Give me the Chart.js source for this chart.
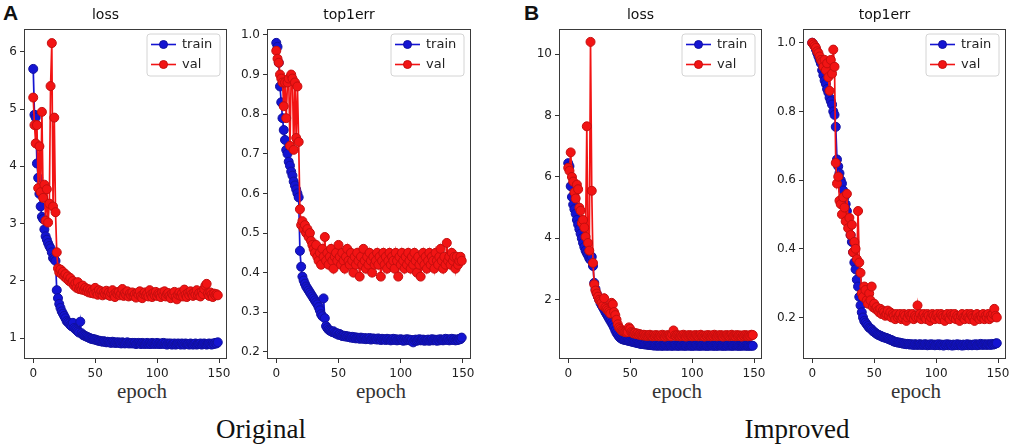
<!DOCTYPE html>
<html>
<head>
<meta charset="utf-8">
<script src="https://cdn.jsdelivr.net/npm/chart.js@4.4.1/dist/chart.umd.min.js"></script>
<style>
html,body{margin:0;padding:0;background:#fff;width:1024px;height:448px;overflow:hidden;position:relative}
canvas{position:absolute;top:0}
.pl{position:absolute;font-family:'Liberation Sans',Arial,sans-serif;font-weight:bold;font-size:21px;line-height:21px;color:#111}
.ep{position:absolute;width:120px;text-align:center;font-family:'Liberation Serif','DejaVu Serif',serif;font-size:21px;line-height:21px;color:#333}
.cap{position:absolute;width:200px;text-align:center;font-family:'Liberation Serif','DejaVu Serif',serif;font-size:27px;line-height:27px;color:#111}
</style>
</head>
<body>
<div class="pl" style="left:3px;top:2px">A</div>
<div class="pl" style="left:524px;top:2px">B</div>
<div class="ep" style="left:82px;top:381px">epoch</div>
<div class="ep" style="left:321px;top:381px">epoch</div>
<div class="ep" style="left:617px;top:381px">epoch</div>
<div class="ep" style="left:856px;top:381px">epoch</div>
<div class="cap" style="left:161px;top:416px">Original</div>
<div class="cap" style="left:697px;top:416px">Improved</div>
<canvas id="c1"></canvas>
<canvas id="c2"></canvas>
<canvas id="c3"></canvas>
<canvas id="c4"></canvas>
<script>
// ---- categories / ticks ----
const epochs = Array.from({length:150}, (_, i) => i);
const xTicks = [0, 50, 100, 150];
const aLossTicks = [1, 2, 3, 4, 5, 6];
const aTopTicks = [0.2, 0.3, 0.4, 0.5, 0.6, 0.7, 0.8, 0.9, 1.0];
const bLossTicks = [2, 4, 6, 8, 10];
const bTopTicks = [0.2, 0.4, 0.6, 0.8, 1.0];
const seriesNames = ['train', 'val'];

// ---- A (Original) loss ----
const aLossTrain = [5.70,4.90,4.85,4.05,3.80,3.52,3.30,3.12,3.08,2.90,
 2.78,2.72,2.66,2.61,2.57,2.50,2.40,2.38,2.35,1.84,
 1.70,1.60,1.53,1.47,1.43,1.39,1.35,1.30,1.28,1.26,
 1.23,1.21,1.27,1.18,1.16,1.14,1.12,1.10,1.29,1.09,
 1.06,1.05,1.04,1.03,1.02,1.01,1.00,0.99,0.99,0.98,
 0.98,0.97,0.96,0.96,0.95,0.95,0.94,0.95,0.94,0.93,
 0.94,0.93,0.93,0.92,0.94,0.93,0.92,0.93,0.92,0.93,
 0.92,0.91,0.93,0.92,0.91,0.92,0.93,0.91,0.92,0.91,
 0.92,0.91,0.92,0.90,0.91,0.92,0.91,0.90,0.92,0.91,
 0.90,0.91,0.92,0.90,0.91,0.90,0.92,0.91,0.90,0.91,
 0.92,0.90,0.91,0.90,0.91,0.92,0.90,0.91,0.89,0.91,
 0.90,0.91,0.89,0.90,0.91,0.89,0.90,0.91,0.90,0.89,
 0.91,0.90,0.89,0.91,0.90,0.90,0.89,0.91,0.90,0.89,
 0.90,0.91,0.89,0.90,0.90,0.91,0.89,0.90,0.91,0.90,
 0.89,0.90,0.91,0.90,0.89,0.91,0.90,0.92,0.91,0.93];
const aLossVal = [5.20,4.72,4.40,4.72,3.62,4.35,3.55,4.95,3.45,3.68,
 3.05,3.60,3.02,3.35,5.40,6.15,3.30,4.85,3.20,2.50,
 2.22,2.15,2.20,2.12,2.16,2.08,2.12,2.04,2.08,2.00,
 2.05,1.97,2.00,1.92,1.96,1.88,1.98,1.86,1.90,1.85,
 1.92,1.84,1.88,1.82,1.86,1.80,1.85,1.79,1.83,1.78,
 1.88,1.80,1.76,1.84,1.78,1.82,1.75,1.80,1.77,1.83,
 1.76,1.80,1.74,1.79,1.84,1.76,1.72,1.80,1.77,1.81,
 1.75,1.78,1.86,1.74,1.79,1.76,1.82,1.73,1.78,1.75,
 1.80,1.74,1.77,1.71,1.79,1.76,1.82,1.74,1.70,1.77,
 1.80,1.75,1.78,1.73,1.84,1.76,1.72,1.79,1.75,1.81,
 1.74,1.78,1.76,1.72,1.80,1.75,1.82,1.73,1.77,1.79,
 1.74,1.70,1.78,1.75,1.81,1.72,1.68,1.76,1.80,1.74,
 1.78,1.73,1.85,1.76,1.72,1.79,1.75,1.82,1.77,1.74,
 1.80,1.76,1.84,1.75,1.79,1.73,1.81,1.77,1.86,1.92,
 1.95,1.78,1.74,1.80,1.76,1.72,1.78,1.75,1.77,1.75];

// ---- A (Original) top1err ----
const aTopTrain = [0.98,0.97,0.93,0.87,0.83,0.79,0.76,0.735,0.71,0.70,
 0.68,0.67,0.655,0.645,0.63,0.62,0.61,0.60,0.59,0.455,
 0.415,0.39,0.38,0.372,0.365,0.36,0.355,0.35,0.345,0.34,
 0.335,0.33,0.325,0.32,0.313,0.305,0.295,0.29,0.335,0.285,
 0.265,0.26,0.256,0.254,0.252,0.25,0.252,0.248,0.246,0.247,
 0.243,0.245,0.242,0.24,0.241,0.239,0.24,0.238,0.239,0.237,
 0.236,0.238,0.235,0.237,0.234,0.236,0.235,0.233,0.236,0.234,
 0.233,0.235,0.232,0.234,0.233,0.235,0.231,0.233,0.234,0.232,
 0.233,0.231,0.234,0.232,0.230,0.233,0.231,0.232,0.230,0.233,
 0.231,0.232,0.229,0.231,0.233,0.230,0.232,0.229,0.231,0.230,
 0.232,0.230,0.228,0.231,0.229,0.232,0.230,0.231,0.228,0.230,
 0.224,0.229,0.231,0.228,0.230,0.232,0.229,0.230,0.231,0.228,
 0.230,0.229,0.231,0.228,0.230,0.232,0.229,0.231,0.230,0.228,
 0.231,0.229,0.232,0.230,0.229,0.231,0.233,0.230,0.232,0.229,
 0.231,0.233,0.230,0.232,0.229,0.231,0.230,0.233,0.232,0.236];
const aTopVal = [0.96,0.94,0.93,0.90,0.89,0.88,0.82,0.88,0.79,0.88,
 0.89,0.72,0.90,0.89,0.71,0.88,0.74,0.87,0.73,0.56,
 0.52,0.53,0.51,0.52,0.50,0.51,0.49,0.50,0.48,0.47,
 0.46,0.45,0.47,0.44,0.43,0.45,0.42,0.46,0.44,0.49,
 0.43,0.45,0.42,0.44,0.46,0.43,0.41,0.44,0.45,0.43,
 0.47,0.44,0.42,0.45,0.43,0.41,0.44,0.46,0.43,0.42,
 0.45,0.43,0.40,0.44,0.42,0.45,0.43,0.39,0.44,0.42,
 0.46,0.43,0.41,0.44,0.42,0.45,0.43,0.40,0.44,0.42,
 0.43,0.45,0.42,0.44,0.39,0.43,0.45,0.42,0.44,0.41,
 0.43,0.45,0.42,0.44,0.43,0.41,0.45,0.43,0.39,0.44,
 0.42,0.45,0.43,0.41,0.44,0.42,0.45,0.43,0.41,0.44,
 0.42,0.45,0.43,0.40,0.44,0.42,0.39,0.43,0.45,0.42,
 0.44,0.41,0.43,0.45,0.42,0.44,0.43,0.41,0.45,0.43,
 0.42,0.44,0.46,0.43,0.41,0.44,0.42,0.475,0.43,0.44,
 0.42,0.45,0.43,0.44,0.41,0.44,0.42,0.43,0.44,0.43];

// ---- B (Improved) loss ----
const bLossTrain = [6.45,6.35,5.70,5.35,5.10,4.95,4.80,4.60,4.45,4.30,
 4.15,4.00,3.85,3.72,3.60,3.52,3.45,3.35,3.30,3.40,
 3.10,2.55,2.35,2.20,2.10,2.00,1.90,1.82,1.75,1.68,
 1.60,1.53,1.46,1.39,1.32,1.25,1.18,1.10,1.00,0.92,
 0.86,0.80,0.76,0.73,0.71,0.70,0.69,0.68,0.67,0.66,
 0.65,0.64,0.63,0.62,0.61,0.60,0.59,0.58,0.57,0.56,
 0.56,0.55,0.55,0.54,0.54,0.53,0.53,0.52,0.52,0.51,
 0.51,0.52,0.50,0.51,0.52,0.50,0.51,0.50,0.52,0.51,
 0.50,0.51,0.52,0.50,0.51,0.50,0.52,0.51,0.50,0.51,
 0.50,0.52,0.51,0.50,0.51,0.50,0.51,0.52,0.50,0.51,
 0.50,0.51,0.50,0.52,0.51,0.50,0.51,0.50,0.51,0.52,
 0.50,0.51,0.50,0.51,0.50,0.52,0.51,0.50,0.51,0.50,
 0.51,0.50,0.52,0.51,0.50,0.51,0.50,0.51,0.50,0.52,
 0.51,0.50,0.51,0.50,0.51,0.52,0.50,0.51,0.50,0.51,
 0.50,0.51,0.52,0.50,0.51,0.50,0.51,0.50,0.51,0.50];
const bLossVal = [6.30,6.20,6.80,6.00,5.85,5.50,5.30,5.75,5.60,5.00,
 4.90,4.50,4.60,4.35,4.05,7.65,3.85,3.60,10.40,5.55,
 3.20,2.50,2.30,2.20,2.10,2.00,1.95,1.90,1.80,2.05,
 1.75,1.70,1.65,1.60,1.55,1.90,1.85,1.60,1.50,1.35,
 1.20,1.10,1.05,1.00,0.98,0.96,0.95,0.94,0.95,1.10,
 1.05,0.95,0.92,0.90,0.92,0.88,0.90,0.86,0.88,0.85,
 0.84,0.86,0.83,0.85,0.82,0.84,0.86,0.83,0.81,0.84,
 0.82,0.85,0.83,0.81,0.84,0.82,0.86,0.83,0.80,0.84,
 0.82,0.85,0.83,0.81,0.88,1.00,0.84,0.82,0.85,0.83,
 0.81,0.84,0.82,0.86,0.83,0.80,0.84,0.82,0.85,0.83,
 0.81,0.84,0.82,0.85,0.83,0.81,0.84,0.86,0.82,0.83,
 0.80,0.84,0.82,0.85,0.83,0.81,0.84,0.82,0.86,0.83,
 0.81,0.84,0.82,0.85,0.83,0.80,0.84,0.82,0.85,0.83,
 0.81,0.84,0.86,0.82,0.83,0.81,0.85,0.82,0.84,0.83,
 0.80,0.84,0.82,0.85,0.83,0.81,0.84,0.82,0.86,0.85];

// ---- B (Improved) top1err ----
const bTopTrain = [1.00,0.995,0.99,0.98,0.97,0.96,0.95,0.94,0.92,0.905,
 0.89,0.88,0.865,0.855,0.84,0.83,0.82,0.80,0.79,0.755,
 0.66,0.64,0.62,0.60,0.59,0.57,0.55,0.53,0.51,0.49,
 0.465,0.44,0.42,0.39,0.36,0.34,0.31,0.29,0.26,0.235,
 0.215,0.20,0.19,0.185,0.18,0.175,0.17,0.168,0.165,0.16,
 0.158,0.155,0.152,0.150,0.148,0.147,0.145,0.143,0.142,0.141,
 0.140,0.138,0.137,0.135,0.134,0.132,0.130,0.129,0.128,0.127,
 0.127,0.126,0.125,0.124,0.124,0.123,0.122,0.123,0.122,0.121,
 0.122,0.121,0.120,0.122,0.121,0.120,0.121,0.122,0.120,0.121,
 0.120,0.122,0.121,0.119,0.121,0.120,0.122,0.120,0.121,0.119,
 0.121,0.120,0.122,0.119,0.121,0.120,0.118,0.121,0.120,0.122,
 0.119,0.121,0.120,0.118,0.121,0.119,0.120,0.122,0.119,0.121,
 0.120,0.118,0.121,0.119,0.120,0.122,0.119,0.121,0.120,0.119,
 0.121,0.120,0.122,0.119,0.121,0.120,0.123,0.121,0.120,0.122,
 0.121,0.120,0.122,0.121,0.120,0.123,0.121,0.122,0.124,0.125];
const bTopVal = [1.00,0.995,0.99,0.985,0.975,0.97,0.96,0.95,0.945,0.93,
 0.95,0.92,0.94,0.90,0.86,0.95,0.91,0.98,0.93,0.65,
 0.59,0.61,0.54,0.53,0.50,0.55,0.52,0.48,0.56,0.46,
 0.49,0.44,0.47,0.39,0.42,0.40,0.37,0.51,0.36,0.33,
 0.27,0.26,0.29,0.28,0.25,0.24,0.27,0.25,0.29,0.23,
 0.24,0.225,0.23,0.22,0.215,0.225,0.21,0.22,0.215,0.205,
 0.21,0.22,0.205,0.215,0.20,0.21,0.205,0.195,0.21,0.20,
 0.205,0.21,0.195,0.20,0.21,0.205,0.19,0.20,0.21,0.205,
 0.20,0.21,0.195,0.205,0.20,0.235,0.20,0.21,0.195,0.205,
 0.21,0.20,0.195,0.21,0.205,0.19,0.20,0.21,0.205,0.195,
 0.205,0.21,0.20,0.195,0.21,0.205,0.20,0.19,0.205,0.21,
 0.20,0.195,0.21,0.205,0.20,0.21,0.195,0.205,0.20,0.19,
 0.205,0.21,0.20,0.195,0.205,0.21,0.20,0.195,0.21,0.205,
 0.20,0.19,0.205,0.21,0.20,0.195,0.205,0.20,0.21,0.195,
 0.205,0.20,0.21,0.195,0.205,0.20,0.21,0.225,0.205,0.20];

// ---- styling / layout ----
const BLUE = '#1414d2', BLUE_EDGE = '#10109e';
const RED = '#f21414', RED_EDGE = '#c40e0e';
const PAD = 40;
Chart.defaults.font.family = "'DejaVu Sans', sans-serif";

const panels = [
  {id:'c1', title:'loss', left:24, right:227, train:aLossTrain, val:aLossVal, yMin:0.639, yMax:6.396, yTicks:aLossTicks, dec:0},
  {id:'c2', title:'top1err', left:267, right:471, train:aTopTrain, val:aTopVal, yMin:0.182, yMax:1.015, yTicks:aTopTicks, dec:1},
  {id:'c3', title:'loss', left:559, right:762, train:bLossTrain, val:bLossVal, yMin:0.07, yMax:10.82, yTicks:bLossTicks, dec:0},
  {id:'c4', title:'top1err', left:803, right:1006, train:bTopTrain, val:bTopVal, yMin:0.079, yMax:1.040, yTicks:bTopTicks, dec:1}
];

const framePlugin = {
  id:'frame',
  afterDraw(c){
    const {ctx, chartArea:a} = c;
    ctx.save();
    ctx.strokeStyle = '#3a3a3a'; ctx.lineWidth = 1;
    ctx.strokeRect(a.left + 0.5, a.top + 0.5, a.right - a.left - 1, a.bottom - a.top - 1);
    ctx.restore();
  }
};

const legendPlugin = {
  id:'mplLegend',
  afterDraw(c){
    const {ctx, chartArea:a} = c;
    const w = 73, h = 42;
    const x = a.right - 7 - w, y = a.top + 5;
    ctx.save();
    ctx.beginPath();
    const r = 3;
    ctx.moveTo(x + r, y); ctx.lineTo(x + w - r, y); ctx.quadraticCurveTo(x + w, y, x + w, y + r);
    ctx.lineTo(x + w, y + h - r); ctx.quadraticCurveTo(x + w, y + h, x + w - r, y + h);
    ctx.lineTo(x + r, y + h); ctx.quadraticCurveTo(x, y + h, x, y + h - r);
    ctx.lineTo(x, y + r); ctx.quadraticCurveTo(x, y, x + r, y);
    ctx.closePath();
    ctx.fillStyle = 'rgba(255,255,255,0.85)'; ctx.fill();
    ctx.strokeStyle = '#d4d4d4'; ctx.lineWidth = 1; ctx.stroke();
    c.data.datasets.forEach((ds, i) => {
      const cy = y + 10.5 + i * 20;
      ctx.strokeStyle = ds.borderColor; ctx.lineWidth = 1.6;
      ctx.beginPath(); ctx.moveTo(x + 4, cy); ctx.lineTo(x + 29, cy); ctx.stroke();
      ctx.beginPath(); ctx.arc(x + 16.5, cy, 4, 0, Math.PI * 2);
      ctx.fillStyle = ds.pointBackgroundColor; ctx.fill();
      ctx.strokeStyle = ds.pointBorderColor; ctx.lineWidth = 1; ctx.stroke();
      ctx.fillStyle = '#222'; ctx.font = "13px 'DejaVu Sans', sans-serif";
      ctx.textBaseline = 'middle'; ctx.textAlign = 'left';
      ctx.fillText(ds.label, x + 35, cy);
    });
    ctx.restore();
  }
};

function makeDataset(label, values, col, edge, order){
  return {
    label, order,
    data: values.map((v, i) => ({x: epochs[i], y: v})),
    borderColor: col, backgroundColor: col,
    pointBackgroundColor: col, pointBorderColor: edge,
    pointRadius: 4.5, pointBorderWidth: 1, borderWidth: 1.7, tension: 0
  };
}

panels.forEach(p => {
  const cv = document.getElementById(p.id);
  const W = (p.right - p.left) + 2 * PAD;
  cv.width = W; cv.height = 400;
  cv.style.left = (p.left - PAD) + 'px';
  new Chart(cv, {
    type: 'line',
    data: { datasets: [
      makeDataset(seriesNames[0], p.train, BLUE, BLUE_EDGE, 2),
      makeDataset(seriesNames[1], p.val, RED, RED_EDGE, 1)
    ]},
    options: {
      responsive: false, animation: false, devicePixelRatio: 1,
      layout: {padding: {left: 0, right: PAD, top: 0, bottom: 0}},
      plugins: {
        legend: {display: false}, tooltip: {enabled: false},
        title: {display: true, text: p.title, color: '#111',
          font: {size: 14, weight: 'normal', family: "'DejaVu Sans', sans-serif"},
          padding: {top: 7, bottom: 5.2}}
      },
      scales: {
        x: {
          type: 'linear', min: -7.45, max: 156.45,
          afterBuildTicks: s => { s.ticks = xTicks.map(v => ({value: v})); },
          afterFit: s => { s.height = 41; },
          grid: {display: true, drawOnChartArea: false, drawTicks: true, tickLength: 4, color: '#333'},
          border: {display: false},
          ticks: {padding: 4, color: '#222', font: {size: 12}, maxRotation: 0, autoSkip: false,
            callback: v => String(v)}
        },
        y: {
          type: 'linear', min: p.yMin, max: p.yMax,
          afterBuildTicks: s => { s.ticks = p.yTicks.map(v => ({value: v})); },
          afterFit: s => { s.width = PAD; },
          grid: {display: true, drawOnChartArea: false, drawTicks: true, tickLength: 4, color: '#333'},
          border: {display: false},
          ticks: {padding: 3, color: '#222', font: {size: 12}, autoSkip: false,
            callback: v => p.dec ? Number(v).toFixed(p.dec) : String(v)}
        }
      }
    },
    plugins: [framePlugin, legendPlugin]
  });
});
</script>
</body>
</html>
